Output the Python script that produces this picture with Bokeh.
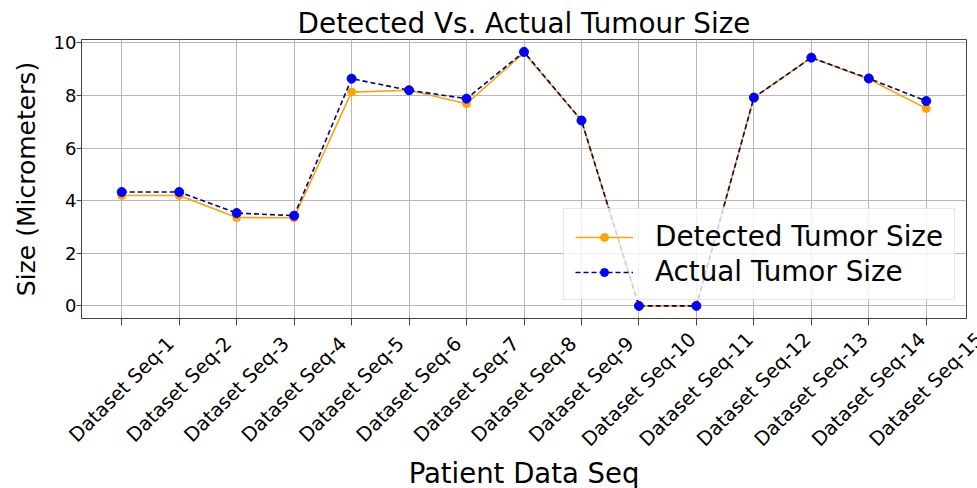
import math
from bokeh.plotting import figure
from bokeh.layouts import column
from bokeh.models import ColumnDataSource, Range1d, FixedTicker, Legend, LegendItem
from bokeh.core.properties import value
from bokeh.embed import file_html
from bokeh.resources import INLINE

categories = ["Dataset Seq-1", "Dataset Seq-2", "Dataset Seq-3", "Dataset Seq-4",
              "Dataset Seq-5", "Dataset Seq-6", "Dataset Seq-7", "Dataset Seq-8",
              "Dataset Seq-9", "Dataset Seq-10", "Dataset Seq-11", "Dataset Seq-12",
              "Dataset Seq-13", "Dataset Seq-14", "Dataset Seq-15"]
detected = [4.20, 4.20, 3.36, 3.35, 8.13, 8.20, 7.69, 9.62, 7.05, 0.0, 0.0, 7.92, 9.44, 8.62, 7.51]
actual = [4.33, 4.33, 3.53, 3.43, 8.64, 8.20, 7.88, 9.66, 7.05, 0.0, 0.0, 7.92, 9.44, 8.65, 7.79]
y_ticks = [0, 2, 4, 6, 8, 10]

FONT = "DejaVu Sans"
W = 977
TOP_H = 326
BOT_H = 488 - TOP_H
FL, FR = 81, 11           # frame borders of main plot (px)

idx = list(range(len(categories)))
src = ColumnDataSource(dict(x=idx, cat=categories, detected=detected, actual=actual))

x0, x1 = -0.7, len(categories) - 1 + 0.7

p = figure(width=W, height=TOP_H, output_backend="svg", toolbar_location=None,
           x_range=Range1d(x0, x1), y_range=Range1d(-0.48, 10.13),
           min_border_left=FL, min_border_right=FR, min_border_top=39, min_border_bottom=8)
p.frame_align = False

p.title.text = "Detected Vs. Actual Tumour Size"
p.title.align = "center"
p.title.text_font = FONT
p.title.text_font_size = "27.8px"
p.title.text_font_style = "normal"
p.title.text_color = "black"
p.title.standoff = 0

p.outline_line_color = "#444444"
p.outline_line_width = 1
p.background_fill_color = "white"
p.border_fill_color = "white"

xa = p.xaxis[0]
xa.ticker = FixedTicker(ticks=idx)
xa.major_label_text_font_size = "0px"
xa.major_label_standoff = 0
xa.major_tick_out = 7
xa.major_tick_in = 0
xa.minor_tick_line_color = None
xa.axis_line_color = "#444444"
xa.major_tick_line_color = "#444444"

ya = p.yaxis[0]
ya.ticker = FixedTicker(ticks=y_ticks)
ya.major_label_text_font = FONT
ya.major_label_text_font_size = "18px"
ya.major_label_text_color = "black"
ya.major_tick_out = 5
ya.major_tick_in = 0
ya.major_label_standoff = 0
ya.minor_tick_line_color = None
ya.axis_line_color = "#444444"
ya.major_tick_line_color = "#444444"
ya.axis_label = "Size (Micrometers)"
ya.axis_label_text_font = FONT
ya.axis_label_text_font_size = "25px"
ya.axis_label_text_font_style = "normal"
ya.axis_label_text_color = "black"
ya.axis_label_standoff = 10

p.xgrid.grid_line_color = "#b8b8b8"
p.ygrid.grid_line_color = "#b8b8b8"
p.xgrid.grid_line_width = 1
p.ygrid.grid_line_width = 1

ld = p.line("x", "detected", source=src, line_color="orange", line_width=1.6)
sd = p.scatter("x", "detected", source=src, size=8, fill_color="orange", line_color="orange")
la = p.line("x", "actual", source=src, line_color="darkblue", line_width=1.6, line_dash="5 3")
sa = p.scatter("x", "actual", source=src, size=9, fill_color="blue", line_color="blue")

legend = Legend(items=[LegendItem(label="Detected Tumor Size", renderers=[ld, sd]),
                       LegendItem(label="Actual Tumor Size", renderers=[la, sa])],
                location=(482, 18), label_text_font_size="27.8px", label_text_font=FONT,
                label_text_color="black",
                glyph_width=58, glyph_height=20, label_height=32, label_standoff=22,
                spacing=2, padding=11, margin=0,
                background_fill_color="white", background_fill_alpha=0.8,
                border_line_color="#d0d0d0", border_line_width=1)
p.add_layout(legend, "center")

# strip below the main plot carrying the rotated category labels and the x-axis title,
# laid out on the same horizontal scale as the main plot's frame
ppu = (W - FL - FR) / (x1 - x0)
q = figure(width=W, height=BOT_H, output_backend="svg", toolbar_location=None, title=None,
           x_range=Range1d(x0 - FL / ppu, x1 + FR / ppu), y_range=Range1d(0, BOT_H),
           x_axis_location=None, y_axis_location=None,
           min_border_left=0, min_border_right=0, min_border_top=0, min_border_bottom=0)
q.frame_align = False
q.grid.visible = False
q.outline_line_color = None
q.background_fill_color = "white"
q.border_fill_color = "white"

q.text(x="x", y=BOT_H - 63, text="cat", source=src, angle=math.pi / 4,
       text_align="center", text_baseline="middle",
       text_font=value(FONT), text_font_size=value("19.5px"), text_color="black")
q.text(x=[(x0 + x1) / 2], y=[16], text=["Patient Data Seq"],
       text_align="center", text_baseline="alphabetic",
       text_font=value(FONT), text_font_size=value("27.5px"), text_color="black")

layout = column(p, q, spacing=0)
open("out.html", "w").write(file_html(layout, INLINE))
